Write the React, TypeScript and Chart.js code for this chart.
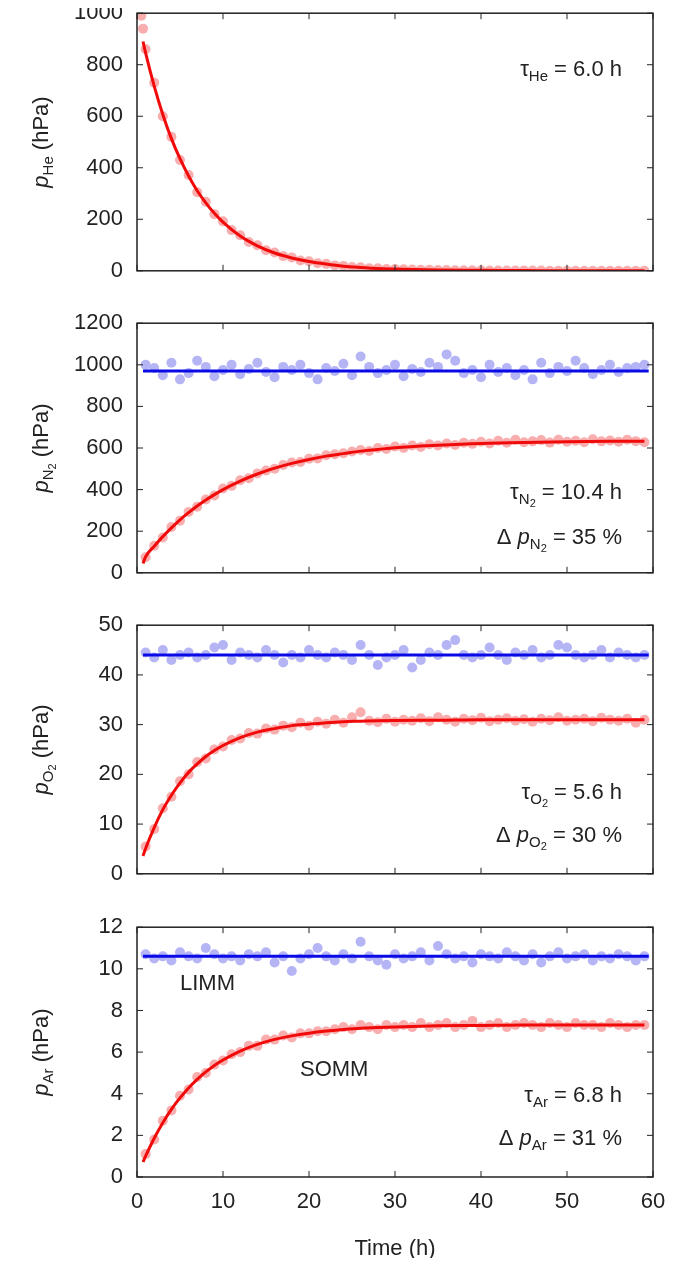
import { useEffect, useRef } from "react";
import Chart from "chart.js/auto";

const FONT = "'Liberation Sans', Arial, sans-serif";
const PINK = "rgba(247,160,160,0.85)";
const LILAC = "rgba(168,168,245,0.85)";
const RED = "#f00a0a";
const BLUE = "#0a0ae6";

const HOURS = [1, 2, 3, 4, 5, 6, 7, 8, 9, 10, 11, 12, 13, 14, 15, 16, 17, 18, 19, 20, 21, 22, 23, 24, 25, 26, 27, 28, 29, 30,
  31, 32, 33, 34, 35, 36, 37, 38, 39, 40, 41, 42, 43, 44, 45, 46, 47, 48, 49, 50, 51, 52, 53, 54, 55, 56, 57, 58, 59];
const FIT_T = [0.7, 1, 2, 3, 4, 5, 6, 7, 8, 9, 10, 12, 14, 16, 18, 20, 22, 24, 26, 28, 30, 35, 40, 45, 50, 55, 59];

// He
const HE_EARLY_T = [0.5, 0.7];
const HE_EARLY = [990, 940];
const HE_DATA = [860, 730, 600, 520, 430, 372, 305, 268, 220, 192, 158, 138, 112, 99, 80, 71, 57, 52, 40, 37, 29, 27, 21, 19, 15, 14, 10, 10, 7, 7,
  6, 5, 4, 4, 3, 3, 2, 2, 2, 2, 1, 1, 1, 1, 1, 1, 1, 0, 0, 0, 0, 0, 0, 0, 0, 0, 0, 0, 0];
const HE_FIT = [890, 846, 717, 607, 513, 435, 368, 311, 264, 223, 189, 135, 97, 69, 50, 36, 26, 18, 13, 9, 7, 3, 2, 1, 0, 0, 0];

// N2
const N2_SOMM = [75, 130, 170, 220, 250, 292, 318, 352, 372, 405, 418, 445, 455, 478, 492, 500, 518, 530, 533, 548, 550, 565, 570, 575, 583, 590, 586, 600, 595, 607,
  600, 612, 605, 618, 612, 622, 615, 625, 620, 630, 622, 635, 625, 640, 628, 632, 638, 626, 640, 630, 635, 628, 642, 632, 636, 630, 640, 633, 628];
const N2_LIMM = [1000, 985, 950, 1010, 930, 960, 1020, 990, 945, 975, 1000, 955, 980, 1010, 965, 940, 990, 975, 1000, 960, 930, 985, 970, 1005, 950, 1040, 990, 960, 975, 1000,
  945, 980, 965, 1010, 990, 1050, 1020, 960, 975, 940, 1000, 965, 985, 950, 975, 930, 1010, 960, 990, 970, 1020, 985, 955, 975, 1000, 965, 985, 990, 1000];
const N2_FIT = [45, 77, 128, 174, 216, 255, 289, 321, 350, 376, 400, 441, 475, 503, 526, 545, 561, 573, 585, 593, 601, 613, 622, 627, 630, 632, 633];
const N2_LEVEL = 970;

// O2
const O2_SOMM = [5.5, 9, 13.2, 15.5, 18.6, 20, 22.5, 23.2, 25, 25.6, 26.9, 27.2, 28.3, 28.2, 29.2, 29, 29.8, 29.5, 30.4, 29.8, 30.6, 30.2, 31, 30.4, 31.5, 32.5, 30.8, 30.5, 31.2, 30.6,
  31, 30.8, 31.3, 30.7, 31.5, 31, 30.6, 31.2, 30.9, 31.4, 30.7, 31, 31.3, 30.8, 31.1, 30.6, 31.2, 30.9, 31.5, 30.8, 31, 31.2, 30.7, 31.4, 31, 30.8, 31.2, 30.4, 31];
const O2_LIMM = [44.5, 43.5, 45, 43, 44, 44.5, 43.5, 44, 45.5, 46, 43, 44.5, 44, 43.5, 45, 44, 42.5, 44, 43.5, 45, 44, 43.5, 44.5, 44, 43, 46, 44, 42, 43.5, 44,
  45, 41.5, 43, 44.5, 44, 46, 47, 44, 43.5, 44, 45.5, 44, 43, 44.5, 44, 45, 43.5, 44, 46, 45.5, 44, 43.5, 44, 45, 43.5, 44.5, 44, 43.5, 44];
const O2_FIT = [3.6, 5.1, 9.3, 12.9, 15.8, 18.3, 20.4, 22.1, 23.6, 24.8, 25.8, 27.4, 28.5, 29.2, 29.8, 30.1, 30.4, 30.6, 30.7, 30.8, 30.85, 30.9, 31, 31, 31, 31, 31];
const O2_LEVEL = 44;

// Ar
const AR_SOMM = [1.1, 1.8, 2.7, 3.2, 3.9, 4.2, 4.8, 5, 5.4, 5.6, 5.9, 6, 6.3, 6.3, 6.6, 6.6, 6.8, 6.7, 6.9, 6.9, 7, 7, 7.1, 7.2, 7.1, 7.3, 7.2, 7.1, 7.3, 7.2,
  7.3, 7.2, 7.4, 7.2, 7.3, 7.4, 7.2, 7.3, 7.5, 7.2, 7.3, 7.4, 7.2, 7.3, 7.4, 7.3, 7.2, 7.4, 7.3, 7.2, 7.4, 7.3, 7.3, 7.2, 7.4, 7.3, 7.2, 7.3, 7.3];
const AR_LIMM = [10.7, 10.5, 10.6, 10.4, 10.8, 10.6, 10.5, 11, 10.7, 10.5, 10.6, 10.4, 10.7, 10.6, 10.8, 10.3, 10.6, 9.9, 10.5, 10.7, 11, 10.6, 10.4, 10.7, 10.5, 11.3, 10.6, 10.4, 10.2, 10.7,
  10.5, 10.6, 10.8, 10.4, 11.1, 10.7, 10.5, 10.6, 10.3, 10.7, 10.6, 10.5, 10.8, 10.6, 10.4, 10.7, 10.3, 10.6, 10.8, 10.5, 10.6, 10.7, 10.4, 10.6, 10.5, 10.7, 10.6, 10.4, 10.6];
const AR_FIT = [0.72, 1, 1.86, 2.61, 3.25, 3.8, 4.28, 4.69, 5.05, 5.36, 5.62, 6.05, 6.37, 6.61, 6.78, 6.91, 7.01, 7.09, 7.14, 7.18, 7.21, 7.26, 7.28, 7.3, 7.3, 7.3, 7.3];
const AR_LEVEL = 10.6;

const X_TICKS = [0, 10, 20, 30, 40, 50, 60];

type Part = { t: string; italic?: boolean; sub?: number };
type Label = { parts: Part[]; x: number; y: number; align: "left" | "right" };

const pts = (xs: number[], ys: number[]) => xs.map((x, i) => ({ x, y: ys[i] })).filter((p) => p.y !== undefined);

// sub: 1 = subscript, 2 = subscript of subscript
function fontFor(p: Part) {
  const size = p.sub === 2 ? 11 : p.sub ? 15 : 22;
  return `${p.italic ? "italic " : ""}${size}px ${FONT}`;
}

function drawRich(ctx: CanvasRenderingContext2D, parts: Part[], x: number, y: number, align: "left" | "right" | "center") {
  let w = 0;
  for (const p of parts) { ctx.font = fontFor(p); w += ctx.measureText(p.t).width; }
  let cx = align === "left" ? x : align === "right" ? x - w : x - w / 2;
  ctx.fillStyle = "#222";
  ctx.textAlign = "left";
  ctx.textBaseline = "middle";
  for (const p of parts) {
    ctx.font = fontFor(p);
    ctx.fillText(p.t, cx, p.sub === 2 ? y + 11 : p.sub ? y + 7 : y);
    cx += ctx.measureText(p.t).width;
  }
}

const PLOT_LEFT = 137;

function Panel(props: {
  top: number; height: number; last?: boolean; max: number; step: number;
  datasets: any[]; ylabel: Part[]; labels: Label[];
}) {
  const ref = useRef<HTMLCanvasElement>(null);
  useEffect(() => {
    if (!ref.current) return;
    const frame = {
      id: "frame",
      afterDraw(chart: any) {
        const { ctx, chartArea: a, scales } = chart;
        ctx.save();
        ctx.strokeStyle = "#222";
        ctx.lineWidth = 1.5;
        ctx.strokeRect(a.left, a.top, a.right - a.left, a.bottom - a.top);
        ctx.lineWidth = 1;
        for (const v of X_TICKS) {
          const px = scales.x.getPixelForValue(v);
          ctx.beginPath();
          ctx.moveTo(px, a.bottom); ctx.lineTo(px, a.bottom - 6);
          ctx.moveTo(px, a.top); ctx.lineTo(px, a.top + 6);
          ctx.stroke();
        }
        for (let v = 0; v <= props.max; v += props.step) {
          const py = scales.y.getPixelForValue(v);
          ctx.beginPath();
          ctx.moveTo(a.left, py); ctx.lineTo(a.left + 6, py);
          ctx.moveTo(a.right, py); ctx.lineTo(a.right - 6, py);
          ctx.stroke();
        }
        for (const l of props.labels) drawRich(ctx, l.parts, l.x, l.y - props.top, l.align);
        ctx.translate(42, (a.top + a.bottom) / 2);
        ctx.rotate(-Math.PI / 2);
        drawRich(ctx, props.ylabel, 0, 0, "center");
        ctx.restore();
      },
    };
    const chart = new Chart(ref.current, {
      type: "scatter",
      data: { datasets: props.datasets },
      plugins: [frame],
      options: {
        animation: false,
        responsive: true,
        maintainAspectRatio: false,
        layout: { padding: { top: 12, right: 20, bottom: props.last ? 0 : 10, left: 0 } },
        plugins: { legend: { display: false }, tooltip: { enabled: false } },
        scales: {
          x: {
            type: "linear", min: 0, max: 60, display: props.last ? true : false,
            grid: { display: false }, border: { display: false },
            ticks: { stepSize: 10, color: "#222", font: { size: 22, family: FONT }, padding: 4 },
            title: { display: true, text: "Time (h)", color: "#222", font: { size: 22, family: FONT }, padding: { top: 0 } },
            afterFit: (s: any) => { s.height = props.last ? 89 : 0; },
          },
          y: {
            min: 0, max: props.max,
            grid: { display: false }, border: { display: false },
            ticks: { stepSize: props.step, color: "#222", font: { size: 22, family: FONT }, padding: 6, autoSkip: false, callback: (v: any) => String(v) },
            afterFit: (s: any) => { s.width = PLOT_LEFT; },
          },
        },
      },
    } as any);
    return () => chart.destroy();
  }, []);
  return (
    <div style={{ position: "absolute", left: 0, top: props.top, width: 673, height: props.height }}>
      <canvas ref={ref} />
    </div>
  );
}

const scatterSet = (data: any[], color: string) => ({ data, backgroundColor: color, borderWidth: 0, pointRadius: 5, order: 2 });
const lineSet = (data: any[], color: string) => ({
  data, showLine: true, borderColor: color, borderWidth: 3, pointRadius: 0, cubicInterpolationMode: "monotone", order: 0,
});
const flat = (v: number) => [{ x: 0.7, y: v }, { x: 59.5, y: v }];

export default function App() {
  return (
    <div style={{ position: "relative", width: 673, height: 1266, margin: -8, background: "#fff", overflow: "hidden" }}>
      <Panel top={-6} height={296} max={1000} step={200}
        datasets={[scatterSet([...pts(HE_EARLY_T, HE_EARLY), ...pts(HOURS, HE_DATA)], PINK), lineSet(pts(FIT_T, HE_FIT), RED)]}
        ylabel={[{ t: "p", italic: true }, { t: "He", sub: 1 }, { t: " (hPa)" }]}
        labels={[{ parts: [{ t: "τ" }, { t: "He", sub: 1 }, { t: " = 6.0 h" }], x: 622, y: 70, align: "right" }]} />
      <Panel top={304} height={288} max={1200} step={200}
        datasets={[scatterSet(pts(HOURS, N2_LIMM), LILAC), scatterSet(pts(HOURS, N2_SOMM), PINK), lineSet(flat(N2_LEVEL), BLUE), lineSet(pts(FIT_T, N2_FIT), RED)]}
        ylabel={[{ t: "p", italic: true }, { t: "N", sub: 1 }, { t: "2", sub: 2 }, { t: " (hPa)" }]}
        labels={[
          { parts: [{ t: "τ" }, { t: "N", sub: 1 }, { t: "2", sub: 2 }, { t: " = 10.4 h" }], x: 622, y: 493, align: "right" },
          { parts: [{ t: "Δ " }, { t: "p", italic: true }, { t: "N", sub: 1 }, { t: "2", sub: 2 }, { t: " = 35 %" }], x: 622, y: 538, align: "right" },
        ]} />
      <Panel top={606} height={287} max={50} step={10}
        datasets={[scatterSet(pts(HOURS, O2_LIMM), LILAC), scatterSet(pts(HOURS, O2_SOMM), PINK), lineSet(flat(O2_LEVEL), BLUE), lineSet(pts(FIT_T, O2_FIT), RED)]}
        ylabel={[{ t: "p", italic: true }, { t: "O", sub: 1 }, { t: "2", sub: 2 }, { t: " (hPa)" }]}
        labels={[
          { parts: [{ t: "τ" }, { t: "O", sub: 1 }, { t: "2", sub: 2 }, { t: " = 5.6 h" }], x: 622, y: 793, align: "right" },
          { parts: [{ t: "Δ " }, { t: "p", italic: true }, { t: "O", sub: 1 }, { t: "2", sub: 2 }, { t: " = 30 %" }], x: 622, y: 836, align: "right" },
        ]} />
      <Panel top={908} height={358} last max={12} step={2}
        datasets={[scatterSet(pts(HOURS, AR_LIMM), LILAC), scatterSet(pts(HOURS, AR_SOMM), PINK), lineSet(flat(AR_LEVEL), BLUE), lineSet(pts(FIT_T, AR_FIT), RED)]}
        ylabel={[{ t: "p", italic: true }, { t: "Ar", sub: 1 }, { t: " (hPa)" }]}
        labels={[
          { parts: [{ t: "LIMM" }], x: 180, y: 984, align: "left" },
          { parts: [{ t: "SOMM" }], x: 300, y: 1070, align: "left" },
          { parts: [{ t: "τ" }, { t: "Ar", sub: 1 }, { t: " = 6.8 h" }], x: 622, y: 1096, align: "right" },
          { parts: [{ t: "Δ " }, { t: "p", italic: true }, { t: "Ar", sub: 1 }, { t: " = 31 %" }], x: 622, y: 1139, align: "right" },
        ]} />
    </div>
  );
}
